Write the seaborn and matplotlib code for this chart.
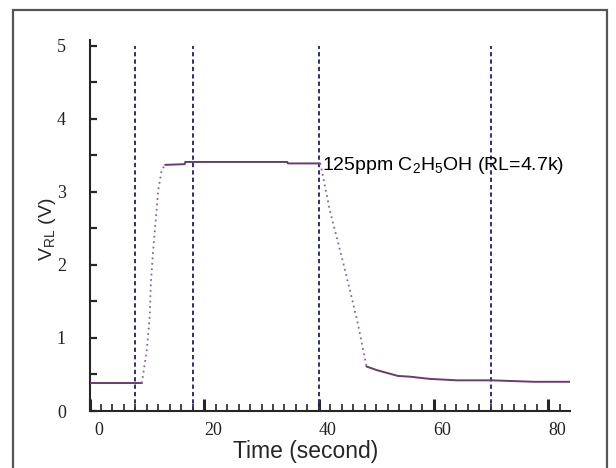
import matplotlib
matplotlib.use('Agg')
import matplotlib.pyplot as plt
import matplotlib.patches as mpatches
import matplotlib.transforms as mtransforms
from matplotlib.ticker import MultipleLocator
import seaborn as sns

# sensor response
base_t = [0, 9.1]
base_v = [0.38, 0.38]
rise_t = [9.1, 9.3, 10.0, 10.5, 10.7, 11.1, 11.6, 12.0, 12.6, 13.2]
rise_v = [0.38, 0.47, 0.84, 1.29, 1.75, 2.2, 2.66, 3.03, 3.30, 3.37]
top_t = [13.2, 16.6, 16.7, 34.5, 34.6, 40.2]
top_v = [3.37, 3.38, 3.41, 3.41, 3.39, 3.39]
fall_t = [40.2, 40.5, 41.9, 43.7, 45.4, 46.8, 48.3]
fall_v = [3.39, 3.30, 2.75, 2.2, 1.66, 1.2, 0.61]
rec_t = [48.3, 50.1, 53.8, 55.9, 59.3, 64.1, 70.0, 77.6, 83.8]
rec_v = [0.61, 0.56, 0.48, 0.47, 0.44, 0.42, 0.42, 0.40, 0.40]

marker_times = [8, 18, 40, 70]
x_ticks = [0, 20, 40, 60, 80]
y_ticks = [0, 1, 2, 3, 4, 5]
note = '125ppm C$_2$H$_5$OH (RL=4.7k)'

sns.set_style('ticks')
plt.rcParams['font.family'] = ['Liberation Sans', 'DejaVu Sans']
plt.rcParams['mathtext.fontset'] = 'custom'
plt.rcParams['mathtext.rm'] = 'Liberation Sans'
plt.rcParams['mathtext.it'] = 'Liberation Sans'

fig = plt.figure(figsize=(6.16, 4.68), dpi=100)
ax = fig.add_axes([89.5 / 616, 1 - 411 / 468, 480.5 / 616, 371 / 468])

line_col = '#6b3a6e'
dot_col = '#8a6a98'
dash_col = '#2e2e78'

ax.vlines(marker_times, 0, 5, colors=dash_col, linestyles=(0, (2.2, 1.6)),
          linewidth=1.4, zorder=1)

for t, v in [(base_t, base_v), (top_t, top_v), (rec_t, rec_v)]:
    sns.lineplot(x=t, y=v, ax=ax, color=line_col, linewidth=1.4,
                 sort=False, estimator=None, zorder=3)
for t, v in [(rise_t, rise_v), (fall_t, fall_v)]:
    sns.lineplot(x=t, y=v, ax=ax, color=dot_col, linewidth=1.3,
                 linestyle=(0, (1, 2)), sort=False, estimator=None, zorder=3)

ax.text(40.5, 3.36, note, fontsize=14, va='center', ha='left',
        color='black')

ax.set_xlim(0, 83.8)
ax.set_ylim(0, 5.08)
ax.set_xticks(x_ticks)
ax.set_yticks(y_ticks)
ax.xaxis.set_minor_locator(MultipleLocator(2))
ax.yaxis.set_minor_locator(MultipleLocator(0.5))
ax.tick_params(axis='x', which='major', direction='in', length=9, width=2.2,
               pad=8, labelsize=13)
ax.tick_params(axis='x', which='minor', direction='in', length=5, width=1.2)
ax.tick_params(axis='y', which='both', direction='in', length=5, width=1.6,
               pad=17, labelsize=13)
for lab in ax.get_xticklabels() + ax.get_yticklabels():
    lab.set_family('Liberation Serif')
    lab.set_color('#222222')
shift = mtransforms.ScaledTranslation(9 / 100, 0, fig.dpi_scale_trans)
for lab in ax.get_xticklabels():
    lab.set_transform(lab.get_transform() + shift)

sns.despine(ax=ax)
ax.spines['left'].set_linewidth(1.5)
ax.spines['bottom'].set_linewidth(1.5)

ax.set_xlabel('Time (second)', fontsize=16.5)
ax.xaxis.set_label_coords(0.45, -0.078)
ax.set_ylabel('V$_{\\mathrm{RL}}$ (V)', fontsize=14)
ax.yaxis.set_label_coords(-0.065, 0.49)

fig.patches.append(mpatches.Rectangle((13 / 616, -0.05), 594 / 616, 1.05 - 10 / 468,
                                      transform=fig.transFigure, fill=False,
                                      edgecolor='#555555', linewidth=1.6))

fig.savefig('out.png', dpi=100)
